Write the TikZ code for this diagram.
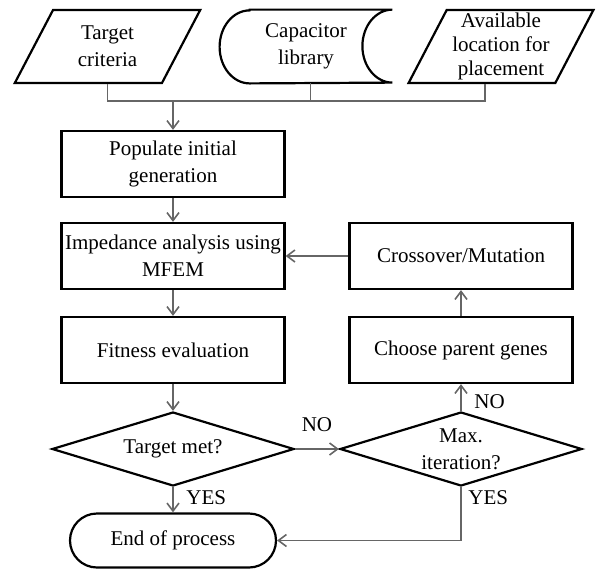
\documentclass[tikz,border=0pt]{standalone}
\usepackage{fontspec}
\setmainfont{Liberation Serif}
\usepackage{tikz}
\usetikzlibrary{shapes, arrows.meta, positioning}
\tikzstyle{every node}=[font=\fontsize{10.5}{13.5}\selectfont]
\tikzstyle{process}=[rectangle, draw, line width=1.1pt, minimum width=111.5pt, minimum height=33pt, align=center, inner sep=0pt]
\tikzstyle{io}=[trapezium, trapezium left angle=63, trapezium right angle=117, trapezium stretches=true, draw, line width=1.1pt, minimum width=93pt, minimum height=36.5pt, align=center, inner sep=0pt]
\tikzstyle{decision}=[diamond, draw, line width=1.1pt, shape aspect=3.2, minimum width=121pt, minimum height=37pt, align=center, inner sep=0pt]
\tikzstyle{terminal}=[rectangle, rounded corners=13.5pt, draw, line width=1.1pt, minimum width=103pt, minimum height=27pt, inner sep=0pt]
\tikzstyle{link}=[draw=black!60, line width=0.8pt]
\tikzstyle{arrow}=[link, -{Straight Barb[length=4pt,width=6pt]}]

\begin{document}
\begin{tikzpicture}[x=0.5pt, y=-0.5pt]
  \useasboundingbox (0,0) rectangle (601,569);
  \node[minimum width=86pt, minimum height=36.5pt, inner sep=0pt, align=center] (caplib) at (306,46.5) {Capacitor\\library};
  \node[io, left of=caplib, node distance=99.25pt] (target) {Target\\criteria};
  \node[io, right of=caplib, node distance=97.5pt, font=\fontsize{10.5}{12}\selectfont] (avail) {Available\\location for\\placement};
  \draw[line width=1.1pt] ([xshift=15pt]caplib.north west) -- (caplib.north east)
    arc[start angle=90, end angle=270, x radius=15pt, y radius=18.25pt]
    -- ([xshift=15pt]caplib.south west)
    arc[start angle=270, end angle=90, x radius=15pt, y radius=18.25pt] -- cycle;

  \node[process] (populate) at (173,164) {Populate initial\\generation};
  \node[process, below of=populate, node distance=46pt] (impedance) {Impedance analysis using\\MFEM};
  \node[process, below of=impedance, node distance=47pt] (fitness) {Fitness evaluation};
  \node[decision, below of=fitness, node distance=49.5pt] (targetmet) {Target met?};
  \node[terminal, below of=targetmet, node distance=45.75pt] (endproc) {End of process};
  \node[decision, right of=targetmet, node distance=144pt] (maxiter) {Max.\\iteration?};
  \node[process, above of=maxiter, node distance=49.5pt] (choose) {Choose parent genes};
  \node[process, above of=choose, node distance=47pt] (crossover) {Crossover/Mutation};

  \coordinate (bus) at ([yshift=14.5pt]populate.north);
  \coordinate (targetfoot) at (target.center |- target.south);
  \coordinate[xshift=2.3pt] (capfoot) at (caplib.south);
  \coordinate[xshift=-8pt] (availfoot) at (avail.center |- avail.south);
  \draw[link] (targetfoot) |- (availfoot |- bus) -- (availfoot);
  \draw[link] (capfoot) -- (capfoot |- bus);
  \draw[arrow] (bus) -- (populate);

  \draw[arrow] (populate) -- (impedance);
  \draw[arrow] (impedance) -- (fitness);
  \draw[arrow] (fitness) -- (targetmet);
  \draw[arrow] (targetmet) -- node (no1) [above=5pt] {NO} (maxiter);
  \draw[arrow] (targetmet) -- node (yes1) [right=3pt, pos=0.4] {YES} (endproc);
  \draw[arrow] (maxiter) -- node (no2) [right=3pt, pos=0.35] {NO} (choose);
  \draw[arrow] (choose) -- (crossover);
  \draw[arrow] (crossover) -- (impedance);
  \draw[arrow] (maxiter.south) |- node (yes2) [right, pos=0.1] {YES} (endproc);
\end{tikzpicture}
\end{document}
